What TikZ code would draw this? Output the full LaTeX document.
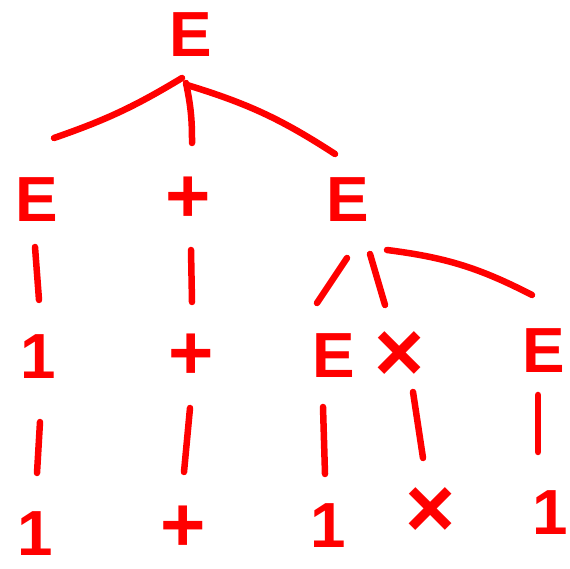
\documentclass[tikz,border=0pt]{standalone}
\usepackage{fontspec}
\setmainfont{Liberation Sans}
\usetikzlibrary{calc}
\tikzset{
  sym/.style={red, inner sep=0pt, font=\fontsize{64}{64}\selectfont\bfseries},
  add/.style={sym, font=\fontsize{78}{78}\selectfont\bfseries},
  mul/.style={sym, font=\fontsize{86}{86}\selectfont\bfseries},
  edge/.style={red, line width=6.5bp, line cap=round},
}
\begin{document}
\begin{tikzpicture}[x=1bp, y=1bp]
  \useasboundingbox (0,0) rectangle (569,569);
  % symbols
  \node[sym] (top) at (191,534) {E};
  \node[sym] (lE) at (37,369) {E};
  \node[add] (plusA) at (188,369) {+};
  \node[sym] (rE) at (348,369) {E};
  \node[sym] (oneA) at (38,212) {1};
  \node[add] (plusB) at (191,212) {+};
  \node[sym] (lowE) at (334,213) {E};
  \node[mul] (mulA) at (400,212) {×};
  \node[sym] (farE) at (544,218) {E};
  \node[sym] (oneB) at (35,35) {1};
  \node[add] (plusC) at (183,40) {+};
  \node[sym] (oneC) at (328,43) {1};
  \node[mul] (mulB) at (431,56) {×};
  \node[sym] (oneD) at (550,56) {1};
  % connectors
  \draw[edge] ($(top)+(-9,-43)$) to[bend left=6] ($(lE)+(17,62)$);
  \draw[edge] ($(top)+(-5,-48)$) to[bend left=6] ($(plusA)+(4,57)$);
  \draw[edge] ($(top)+(-4,-50)$) to[bend left=8] ($(rE)+(-13,46)$);
  \draw[edge] ($(lE)+(-2,-47)$) -- ($(oneA)+(1,57)$);
  \draw[edge] ($(oneA)+(2,-65)$) -- ($(oneB)+(2,61)$);
  \draw[edge] ($(plusA)+(3,-50)$) -- ($(plusB)+(1,55)$);
  \draw[edge] ($(plusB)+(-1,-51)$) -- ($(plusC)+(1,57)$);
  \draw[edge] ($(rE)+(-1,-58)$) -- ($(lowE)+(-17,53)$);
  \draw[edge] ($(rE)+(22,-54)$) -- ($(mulA)+(-15,52)$);
  \draw[edge] ($(rE)+(39,-50)$) to[bend left=10] ($(farE)+(-12,56)$);
  \draw[edge] ($(lowE)+(-11,-51)$) -- ($(oneC)+(-3,52)$);
  \draw[edge] ($(mulA)+(13,-35)$) -- ($(mulB)+(-8,55)$);
  \draw[edge] ($(farE)+(-6,-44)$) -- ($(oneD)+(-12,61)$);
\end{tikzpicture}
\end{document}
